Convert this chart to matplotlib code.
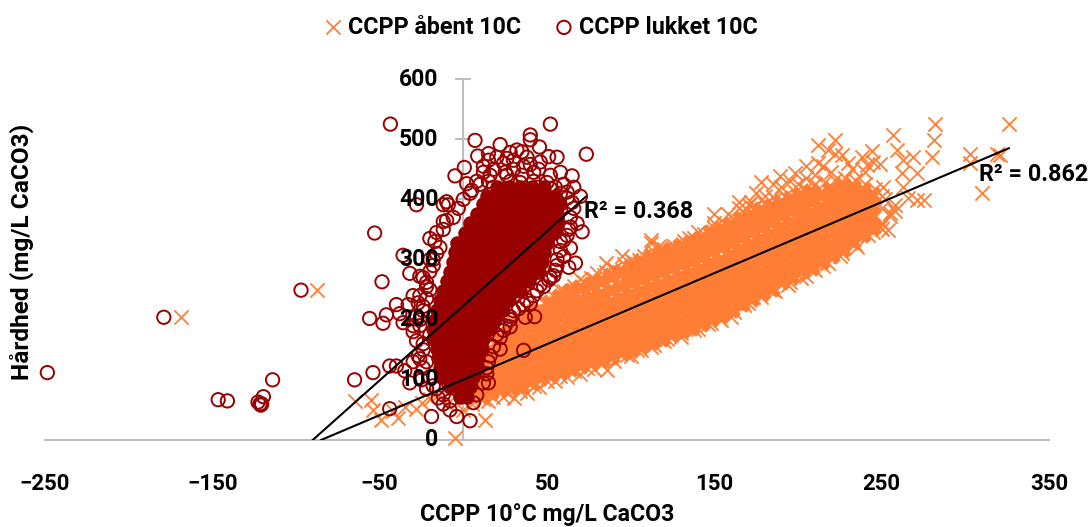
import matplotlib
matplotlib.use("Agg")
import matplotlib.pyplot as plt
import numpy as np

plt.rcParams['font.family'] = ['Roboto', 'DejaVu Sans']
plt.rcParams['font.weight'] = 'bold'

ORANGE = '#FF7D35'
RED = '#990000'
GREY = '#BFBFBF'

x_ticks = [-250, -150, -50, 50, 150, 250, 350]
y_ticks = [0, 100, 200, 300, 400, 500, 600]
series_open = 'CCPP åbent 10C'
series_closed = 'CCPP lukket 10C'
x_title = 'CCPP 10°C mg/L CaCO3'
y_title = 'Hårdhed (mg/L CaCO3)'

# Overplotted dense band of the open series: (ccpp, [hardness readings])
open_dense = [
    (10, [75, 92, 110, 128]), (16, [80, 98, 116, 134, 150]), (22, [84, 102, 120, 138, 156, 170]),
    (28, [88, 106, 124, 142, 160, 178]), (34, [92, 110, 128, 146, 164, 182, 196]),
    (40, [98, 116, 134, 152, 170, 188, 204]), (46, [104, 122, 140, 158, 176, 194, 214]),
    (52, [108, 126, 144, 162, 180, 198, 216, 228]), (58, [114, 132, 150, 168, 186, 204, 222, 238]),
    (64, [120, 138, 156, 174, 192, 210, 228, 246]), (70, [125, 143, 161, 179, 197, 215, 233, 252]),
    (76, [130, 148, 166, 184, 202, 220, 238, 258]), (82, [134, 152, 170, 188, 206, 224, 242, 264]),
    (88, [140, 158, 176, 194, 212, 230, 250, 272]), (94, [146, 164, 182, 200, 218, 236, 256, 280]),
    (100, [152, 170, 188, 206, 224, 242, 262, 288]), (106, [158, 176, 194, 212, 230, 248, 268, 296]),
    (112, [164, 182, 200, 218, 236, 254, 274, 304]), (118, [170, 188, 206, 224, 242, 260, 280, 310]),
    (124, [176, 194, 212, 230, 248, 266, 286, 316]), (130, [182, 200, 218, 236, 254, 272, 292, 322]),
    (136, [188, 206, 224, 242, 260, 278, 298, 328]), (142, [194, 212, 230, 248, 266, 284, 304, 334]),
    (148, [204, 222, 240, 258, 276, 294, 314, 344]), (154, [210, 228, 246, 264, 282, 300, 320, 350]),
    (160, [218, 236, 254, 272, 290, 308, 328, 358]), (166, [228, 246, 264, 282, 300, 318, 338, 368]),
    (172, [236, 254, 272, 290, 308, 326, 346, 374]), (178, [244, 262, 280, 298, 316, 334, 354, 382]),
    (184, [252, 270, 288, 306, 324, 342, 362, 388]), (190, [264, 282, 300, 318, 336, 354, 374, 394]),
    (196, [272, 290, 308, 326, 344, 362, 382, 400]), (202, [282, 300, 318, 336, 354, 372, 392, 406]),
    (208, [288, 306, 324, 342, 360, 378, 398, 412]), (214, [298, 316, 334, 352, 370, 388, 408]),
    (220, [308, 326, 344, 362, 380, 398, 416]), (226, [318, 336, 354, 372, 390, 408, 424]),
    (232, [330, 348, 366, 384, 402, 420]), (238, [342, 360, 378, 396, 414]), (244, [354, 372, 390, 408]),
    (97, [268]), (103, [276]), (109, [284]), (115, [292]), (121, [298]), (127, [304]), (133, [310]), (139, [316]),
    (145, [325]), (151, [335]), (157, [343]), (163, [353]), (169, [358]), (175, [365]), (181, [372]), (187, [380]),
    (193, [388]), (199, [396]), (205, [402]),
]

# Individually visible open-series points
open_points = [
    (282, 525), (326, 525), (281, 499), (280, 471), (303, 476), (303, 460), (321, 473), (319, 476), (310, 410),
    (257, 507), (212, 491), (222, 498), (218, 482), (226, 473), (222, 476), (178, 428), (189, 438), (198, 443),
    (171, 390), (245, 462), (249, 458), (259, 482), (263, 465), (269, 471), (271, 443), (275, 399), (271, 399),
    (254, 349), (255, 377), (249, 354), (258, 391), (263, 421), (266, 402), (212, 460), (205, 436), (185, 404),
    (241, 457), (251, 421), (262, 443), (80, 277), (76, 270), (112, 327), (117, 322), (128, 316), (50, 227),
    (58, 250), (66, 250), (90, 285), (100, 300), (85, 280), (105, 300), (135, 335), (140, 345), (150, 360),
    (158, 375), (165, 385), (172, 395), (180, 405), (190, 420), (200, 425), (210, 440), (220, 445), (232, 450),
    (240, 445), (86, 116), (104, 150), (100, 140), (112, 155), (120, 165), (130, 178), (140, 185), (152, 205),
    (148, 195), (160, 205), (168, 225), (173, 238), (185, 250), (195, 262), (205, 272), (215, 290), (225, 305),
    (235, 320), (245, 345), (250, 350), (24, 72), (38, 78), (30, 70), (15, 65), (45, 88), (55, 98), (62, 105),
    (70, 110), (78, 118), (-64.5, 64), (-55, 66), (-54, 50), (-49, 33), (-39, 36), (-42, 48), (-28, 52),
    (-25, 62), (-35, 55), (-20, 68), (-15, 75), (-5, 3), (13, 33), (-10, 60), (0, 50), (5, 60), (-168.5, 204),
    (-87.5, 249),
    # upper edge of the band
    (20, 180), (30, 195), (36, 205), (42, 215), (48, 228), (54, 238), (60, 248), (66, 256), (72, 262), (78, 268),
    (84, 275), (90, 285), (96, 292), (102, 296), (108, 305), (114, 312), (120, 318), (126, 322), (132, 330),
    (138, 335), (144, 342), (150, 352), (156, 360), (162, 368), (168, 378), (174, 385), (180, 392), (186, 400),
    (192, 405), (198, 412), (204, 418), (210, 425), (216, 428), (222, 432), (228, 436), (234, 432), (240, 426),
    (246, 418), (250, 405), (112, 332), (95, 305), (70, 268), (85, 295), (150, 375), (165, 395), (175, 410),
    (195, 430), (215, 455), (230, 460), (238, 470), (244, 480), (205, 455), (185, 425),
    # lower edge of the band
    (12, 68), (18, 72), (26, 78), (34, 82), (42, 90), (50, 98), (58, 106), (66, 114), (74, 120), (82, 126),
    (90, 132), (98, 142), (106, 150), (114, 158), (122, 168), (130, 172), (138, 182), (146, 192), (154, 200),
    (162, 212), (170, 228), (178, 238), (186, 248), (194, 258), (202, 270), (210, 282), (218, 295), (226, 310),
    (234, 325), (242, 340), (250, 360), (255, 372), (258, 380), (250, 385), (252, 400),
]

# Overplotted dense core of the closed series: (hardness, [ccpp readings])
closed_dense = [
    (72, [-2, 2]), (88, [-8, -2, 4]), (104, [-12, -6, 0, 6]), (120, [-14, -8, -2, 4, 9]),
    (136, [-15, -9, -3, 3, 9]), (152, [-16, -10, -4, 2, 8, 11]), (168, [-18, -12, -6, 0, 6, 12]),
    (184, [-18, -12, -6, 0, 6, 12, 16]), (200, [-17, -11, -5, 1, 7, 13, 19]),
    (216, [-16, -10, -4, 2, 8, 14, 20, 24]), (232, [-14, -8, -2, 4, 10, 16, 22, 27]),
    (248, [-12, -6, 0, 6, 12, 18, 24, 30, 34]), (264, [-10, -4, 2, 8, 14, 20, 26, 32, 39]),
    (280, [-8, -2, 4, 10, 16, 22, 28, 34, 40, 45]), (296, [-6, 0, 6, 12, 18, 24, 30, 36, 42, 47]),
    (312, [-5, 1, 7, 13, 19, 25, 31, 37, 43, 48]), (328, [-4, 2, 8, 14, 20, 26, 32, 38, 44, 50]),
    (344, [1, 7, 13, 19, 25, 31, 37, 43, 49, 54]), (360, [4, 10, 16, 22, 28, 34, 40, 46, 52, 56]),
    (376, [8, 14, 20, 26, 32, 38, 44, 50, 56]), (392, [12, 18, 24, 30, 36, 42, 48, 54, 58]),
    (406, [14, 20, 26, 32, 38, 44, 50, 55]), (420, [20, 27, 34, 41, 48]),
]

# Individually visible closed-series points
closed_points = [
    (-43.6, 525), (52, 525), (73.5, 475), (7, 498), (22, 491), (40, 507), (40, 499), (45.5, 487), (8.6, 472),
    (15, 476), (15, 465), (32, 482), (35, 479), (28, 478), (38, 470), (30, 465), (24, 460), (18, 450), (12, 445),
    (40, 458), (51, 471), (56, 470), (25, 445), (35, 440), (45, 450), (52, 440), (58, 445), (65, 439), (60, 425),
    (50, 428), (15, 430), (5, 415), (2, 426), (-5, 439), (0.6, 453), (42, 430), (28, 430), (66, 420), (70, 405),
    (62, 412), (-53, 344), (-48.6, 263), (-56, 202), (-48, 194), (-46, 208), (-65, 100), (-54, 112), (-44, 123),
    (-40, 123), (-44, 52), (-19, 39), (-4, 39), (4, 32), (22, 151), (36, 149), (42.6, 205), (37, 204), (28, 188),
    (28, 200), (67, 294), (63, 287), (54, 273), (51, 266), (44, 248), (40, 227), (64, 319), (71, 346), (64, 354),
    (68, 360), (-28, 391), (-12, 391), (-9, 391), (-10, 396), (-20, 335), (-17, 330), (-36, 307), (-12, 363),
    (-10, 365), (-32, 277), (-26, 272), (-22, 262), (-30, 240), (-33, 225), (-27, 228), (-24, 215), (-38, 210),
    (-40, 225), (-36, 195), (-30, 190), (-26, 200), (-22, 235), (-20, 250), (-18, 290), (-16, 310), (-20, 300),
    (-35, 115), (-30, 130), (-27, 140), (-32, 95), (-25, 100), (-22, 85), (-18, 90), (-15, 70), (-12, 60),
    (-8, 50), (58, 330), (60, 305), (56, 290), (62, 340), (48, 255), (36, 225), (30, 215), (25, 190), (20, 175),
    (15, 130), (14, 110), (15, 95), (8, 75), (6, 62), (-248.6, 112), (-179, 204), (-97, 249), (-146.5, 67),
    (-141, 65), (-114, 100), (-119.5, 72), (-122.7, 63), (-121.5, 60), (-121, 58), (-120.5, 60),
    # left side of the core
    (-20, 105), (-24, 120), (-26, 135), (-24, 150), (-28, 165), (-30, 180), (-26, 190), (-28, 205), (-24, 222),
    (-26, 240), (-22, 255), (-24, 270), (-20, 280), (-18, 300), (-14, 320), (-16, 345), (-12, 350), (-6, 370),
    (-3, 385), (0, 400), (4, 410), (-20, 175), (-24, 160), (-22, 130), (-16, 85), (-12, 75), (-8, 65),
    # right side of the core
    (12, 95), (14, 120), (16, 140), (18, 155), (22, 170), (24, 182), (28, 205), (33, 218), (38, 232), (42, 240),
    (46, 258), (52, 270), (55, 282), (56, 300), (58, 315), (60, 332), (63, 350), (64, 370), (66, 385), (65, 395),
    (62, 402), (55, 420), (58, 410),
    # above the core
    (10, 425), (18, 420), (26, 440), (34, 428), (44, 420), (52, 418), (12, 455), (20, 470), (26, 468), (36, 455),
    (46, 462), (30, 450), (42, 445), (16, 440), (8, 430),
]

trend_open_x = [-85, 326]
trend_open_y = [0, 485]
trend_closed_x = [-90, 73]
trend_closed_y = [0, 404]
r2_open = 'R² = 0.862'
r2_closed = 'R² = 0.368'

W, H = 1089, 527
fig = plt.figure(figsize=(W / 100, H / 100), dpi=100)
ax = fig.add_axes([45 / W, (H - 440) / H, (1049 - 45) / W, (440 - 79) / H])
ax.set_xlim(-250, 350)
ax.set_ylim(0, 600)

odx = [x for x, ys in open_dense for _ in ys]
ody = [y for _, ys in open_dense for y in ys]
cdy = [y for y, xs in closed_dense for _ in xs]
cdx = [x for _, xs in closed_dense for x in xs]
opx, opy = np.array(open_points).T
cpx, cpy = np.array(closed_points).T

ax.scatter(odx, ody, marker='x', s=100, c=ORANGE, linewidths=5, zorder=3, clip_on=False)
h1 = ax.scatter(opx, opy, marker='x', s=105, c=ORANGE, linewidths=1.3, zorder=3, clip_on=False)
h2 = ax.scatter(cpx, cpy, marker='o', s=92, facecolors='none', edgecolors=RED, linewidths=1.4, zorder=4, clip_on=False)
ax.scatter(cdx, cdy, marker='o', s=110, c=RED, linewidths=0, zorder=4, clip_on=False)

ax.plot(trend_open_x, trend_open_y, color='black', lw=1.5, zorder=5)
ax.plot(trend_closed_x, trend_closed_y, color='black', lw=1.5, zorder=5)

ax.text(72, 379, r2_closed, fontsize=16.8, fontweight='bold', va='center', ha='left', zorder=6)
ax.text(308, 442, r2_open, fontsize=16.8, fontweight='bold', va='center', ha='left', zorder=6)

for s in ('top', 'right'):
    ax.spines[s].set_visible(False)
ax.spines['left'].set_position(('data', 0))
for s in ('left', 'bottom'):
    ax.spines[s].set_color(GREY)
    ax.spines[s].set_linewidth(1.5)
    ax.spines[s].set_zorder(1)

ax.set_xticks(x_ticks)
ax.set_yticks(y_ticks)
ax.tick_params(axis='x', length=0, pad=24, labelsize=16)
ax.tick_params(axis='y', direction='inout', length=11, width=1.5, color=GREY, labelleft=False)
for t in ax.get_xticklabels():
    t.set_fontweight('bold')

# y tick labels sit on top of the point cloud, the tick marks beneath it
for v in y_ticks:
    ax.annotate(str(v), (0, v), xytext=(-18, 0), textcoords='offset points', ha='right', va='center',
                fontsize=16.5, fontweight='bold', zorder=6, annotation_clip=False)

fig.text(547 / W, 1 - 515 / H, x_title, ha='center', va='center', fontsize=16.7, fontweight='bold')
fig.text(22 / W, 1 - 252 / H, y_title, ha='center', va='center', rotation=90, fontsize=17.6, fontweight='bold')

fig.legend([h1, h2], [series_open, series_closed], loc='center', bbox_to_anchor=(540 / W, 1 - 27 / H), ncol=2,
           frameon=False, handletextpad=0.2, columnspacing=1.4, handlelength=0.9,
           borderpad=0, prop={'weight': 'bold', 'size': 16.75})

fig.savefig('out.png', dpi=100)
